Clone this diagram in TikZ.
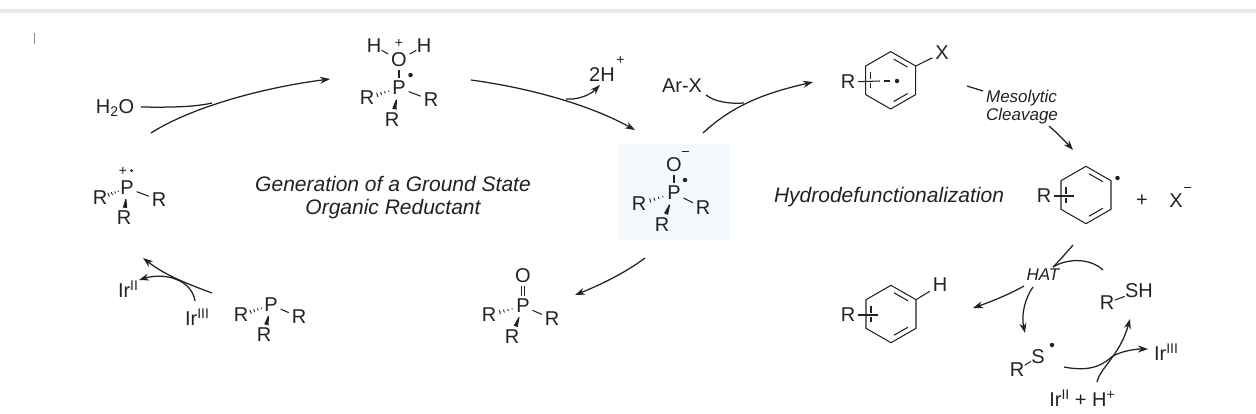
\documentclass[tikz,border=0pt]{standalone}
\usepackage{fontspec}
\setmainfont{Liberation Sans}
\usetikzlibrary{calc,arrows.meta}
\definecolor{ink}{HTML}{222222}
\newcommand{\supr}[1]{\raisebox{6.5pt}{\fontsize{14}{15}\selectfont #1}}
\tikzset{
  atom/.style={inner sep=3pt,outer sep=0pt,text=ink,font=\fontsize{20}{22}\selectfont},
  tight/.style={inner sep=.5pt},
  lab/.style={inner sep=0pt,text=ink,font=\fontsize{20}{22}\selectfont},
  note/.style={inner sep=0pt,text=ink,align=center,font=\fontsize{21}{23}\selectfont\itshape},
  small/.style={inner sep=0pt,text=ink,align=left,font=\fontsize{17}{17.5}\selectfont\itshape},
  charge/.style={inner sep=0pt,text=ink,font=\fontsize{14}{15}\selectfont},
  rad/.style={circle,fill=ink,inner sep=0pt,minimum size=4.5pt},
  bond/.style={draw=ink,line width=1.05pt},
  curly/.style={draw=ink,line width=1.25pt},
  arr/.style={curly,-{Stealth[length=10pt,width=7pt]}}
}
% #1 prefix, #2 P, #3 left R, #4 right R, #5 lower R
\newcommand{\phosph}[5]{%
  \node[atom] (#1P) at (#2) {P};
  \node[atom] (#1Rl) at (#3) {R};
  \node[atom] (#1Rr) at (#4) {R};
  \node[atom] (#1Rb) at (#5) {R};
  \draw[bond] (#1P) -- (#1Rr);
  \fill[ink] ($(#1P)!.36!(#1Rb)!.5pt!90:(#1Rb)$) -- ($(#1P)!.36!(#1Rb)!.5pt!-90:(#1Rb)$)
     -- ($(#1P)!.66!(#1Rb)!2.2pt!-90:(#1Rb)$) -- ($(#1P)!.66!(#1Rb)!2.2pt!90:(#1Rb)$) -- cycle;
  \foreach \t/\w in {.32/.6,.44/1.1,.56/1.6,.68/2.1}
    \draw[ink,line width=.9pt] ($(#1P)!\t!(#1Rl)!\w pt!90:(#1Rl)$) -- ($(#1P)!\t!(#1Rl)!\w pt!-90:(#1Rl)$);
}
% #1 prefix, #2 centre x, #3 centre y
\newcommand{\ringsix}[3]{%
  \coordinate (#1c) at (#2,#3);
  \coordinate (#1a) at ($(#1c)+(0,-28.7)$);
  \coordinate (#1b) at ($(#1c)+(25,-14.3)$);
  \coordinate (#1d) at ($(#1c)+(25,14.3)$);
  \coordinate (#1e) at ($(#1c)+(0,28.7)$);
  \coordinate (#1f) at ($(#1c)+(-25,14.3)$);
  \coordinate (#1g) at ($(#1c)+(-25,-14.3)$);
  \draw[bond,shorten >=3.5pt,shorten <=3.5pt] ($(#1c)!.8!(#1a)$) -- ($(#1c)!.8!(#1b)$);
  \draw[bond,shorten >=3.5pt,shorten <=3.5pt] ($(#1c)!.8!(#1d)$) -- ($(#1c)!.8!(#1e)$);
  \draw[bond,shorten >=3.5pt,shorten <=3.5pt] ($(#1c)!.8!(#1f)$) -- ($(#1c)!.8!(#1g)$);
}
\newcommand{\ringclose}[1]{\draw[bond,line join=round] (#1a) -- (#1b) -- (#1d) -- (#1e) -- (#1f) -- (#1g) -- cycle;}
\begin{document}
\begin{tikzpicture}[x=1pt,y=-1pt]
\useasboundingbox (0,0) rectangle (1256,413);
\fill[white] (0,0) rectangle (1256,413);
\fill[black!9] (0,9) rectangle (1256,13);
\draw[black!45,line width=.5pt] (34.3,33) -- (34.3,44);
\node[fill={rgb,255:red,243;green,249;blue,253},minimum width=111pt,minimum height=96pt,inner sep=0pt] (bluebox) at (673.5,192) {};

% top phosphine water adduct
\phosph{t}{399,88}{367,98}{431,100}{392,120}
\node[atom] (tO) at (399,60) {O};
\node[atom,tight] (tH1) at (374,46) {H};
\node[atom,tight] (tH2) at (424,46) {H};
\node[charge] (tplus) at (399,43.5) {+};
\node[rad] (trad) at (410.5,75) {};
\draw[bond] (tO) -- (tP);
\draw[bond] (tO) -- (tH1);
\draw[bond] (tO) -- (tH2);

% radical cation
\phosph{c}{127,188}{100,198}{159,200}{124,218}
\node[charge] (cplus) at (123,171) {+};
\node[circle,fill=ink,inner sep=0pt,minimum size=3pt] (crad) at (131.5,170.5) {};

% neutral phosphine
\phosph{n}{271,305}{241,315}{299,317}{264,335}

% phosphine oxide
\phosph{x}{523,306}{489,315}{552,319}{512,337}
\node[atom] (xO) at (523,276) {O};
\draw[bond,double,double distance=2.6pt,line width=.95pt] (xO) -- (xP);

% central radical anion
\phosph{m}{674,193}{639,204}{703,208}{662,225}
\node[atom] (mO) at (674,165) {O};
\node[charge] (mminus) at (685,153) {\rule[3pt]{7pt}{1pt}};
\node[rad] (mrad) at (685,180) {};
\draw[bond] (mO) -- (mP);

% aryl radical anion
\ringsix{ra}{890.7}{80.3}
\node[atom] (raR) at (848,82) {R};
\node[atom] (raX) at (942,53) {X};
\node[rad] (radot) at (897,81) {};
\coordinate (raS) at (880,81);
\coordinate (raD1) at (884,81);
\coordinate (raD2) at (890,81);
\draw[white,line width=4pt] (866,81) -- (880,81);
\ringclose{ra}
\draw[bond] (raR) -- (raS);
\draw[bond] (raD1) -- (raD2);
\draw[bond] (rab) -- (raX);

% aryl radical
\ringsix{rb}{1086}{195}
\node[atom] (rbR) at (1044,196) {R};
\node[rad] (rbdot) at (1117.5,178) {};
\coordinate (rbS) at (1074,196);
\draw[white,line width=4pt] (1060,196) -- (1074,196);
\ringclose{rb}
\draw[bond] (rbR) -- (rbS);
\node[lab] (plusa) at (1142,201) {+};
\node[lab] (Xa) at (1176,201) {X};
\node[charge] (Xminus) at (1187,189) {\rule[3pt]{7pt}{1pt}};

% arene product
\ringsix{rc}{891}{314}
\node[atom] (rcR) at (848,315) {R};
\node[atom] (rcH) at (940,285) {H};
\coordinate (rcS) at (878,315);
\draw[white,line width=4pt] (861,315) -- (878,315);
\ringclose{rc}
\draw[bond] (rcR) -- (rcS);
\draw[bond] (rcb) -- (rcH);

% thiyl and thiol
\node[atom,tight] (sR) at (1017,370) {R};
\node[atom,tight] (sS) at (1038,357) {S};
\node[rad] (srad) at (1052,345) {};
\draw[bond] (sR) -- (sS);
\node[atom,tight] (hR) at (1107,303) {R};
\node[atom,tight] (hSH) at (1139,291) {SH};
\draw[bond] (hR) -- (hSH);

% reagents and labels
\node[lab] (water) at (115,108) {H\textsubscript{2}O};
\node[lab] (twoH) at (602,75) {2H};
\node[charge] (twoHp) at (620.5,60) {+};
\node[lab] (arx) at (682,86) {Ar-X};
\node[lab] (ir2a) at (128,289) {Ir\supr{II}};
\node[lab] (ir3a) at (197,317) {Ir\supr{III}};
\node[lab] (ir3b) at (1166,352) {Ir\supr{III}};
\node[lab] (ir2b) at (1082,398) {Ir\supr{II} + H\supr{+}};
\node[note] (gen) at (393,197.5) {Generation of a Ground State\\Organic Reductant};
\node[note] (hydro) at (889,197) {Hydrodefunctionalization};
\node[small] (meso) at (1022,107) {Mesolytic\\Cleavage};
\node[small] (hat) at (1043,275) {HAT};

% free ends of the arrows
\coordinate (a1s) at (151,133); \coordinate (a1e) at (330,79);
\coordinate (a1w) at (141,107); \coordinate (a1j) at (212,103);
\coordinate (a2s) at (471,80); \coordinate (a2e) at (635,130);
\coordinate (a2j) at (566,99); \coordinate (a2f) at (600,85);
\coordinate (a3s) at (703,133); \coordinate (a3e) at (813,82);
\coordinate (a3w) at (706,95); \coordinate (a3j) at (744,103);
\coordinate (a4s) at (967,86); \coordinate (a4m) at (983,91);
\coordinate (a4n) at (1049,126); \coordinate (a4e) at (1073,150);
\coordinate (a5s) at (1073,245); \coordinate (a5m) at (1053,267);
\coordinate (a5n) at (1024,286); \coordinate (a5e) at (973,308);
\coordinate (a6s) at (1033,287); \coordinate (a6e) at (1025,333);
\coordinate (a6w) at (1103,270);
\coordinate (a7s) at (1064,367); \coordinate (a7e) at (1148,349);
\coordinate (a8s) at (1097,382); \coordinate (a8e) at (1130,319);
\coordinate (a9s) at (212,293); \coordinate (a9e) at (143,258);
\coordinate (a10s) at (195,301); \coordinate (a10e) at (139,280);
\coordinate (a11s) at (645,258); \coordinate (a11e) at (575,295);

\draw[arr] (a1s) .. controls (190,108) and (260,88) .. (a1e);
\draw[curly] (a1w) .. controls (170,107.5) and (195,107) .. (a1j);
\draw[arr] (a2s) .. controls (530,88) and (590,105) .. (a2e);
\draw[arr] (a2j) .. controls (578,100) and (590,95) .. (a2f);
\draw[arr] (a3s) .. controls (735,103) and (770,92) .. (a3e);
\draw[curly] (a3w) .. controls (715,102) and (730,104) .. (a3j);
\draw[curly] (a4s) -- (a4m);
\draw[arr] (a4n) .. controls (1056,132) and (1065,141) .. (a4e);
\draw[curly] (a5s) .. controls (1066,253) and (1060,260) .. (a5m);
\draw[arr] (a5n) .. controls (1008,295) and (990,302) .. (a5e);
\draw[arr] (a6s) .. controls (1025,298) and (1021,315) .. (a6e);
\draw[curly] (a6w) .. controls (1090,258) and (1068,258) .. (a5m);
\draw[arr] (a7s) .. controls (1095,373) and (1105,362) .. (1113,356) .. controls (1122,351) and (1135,349) .. (a7e);
\draw[arr] (a8s) .. controls (1100,368) and (1120,355) .. (a8e);
\draw[arr] (a9s) .. controls (185,283) and (165,275) .. (a9e);
\draw[arr] (a10s) .. controls (192,280) and (165,272) .. (a10e);
\draw[arr] (a11s) .. controls (625,273) and (600,285) .. (a11e);
\end{tikzpicture}
\end{document}
